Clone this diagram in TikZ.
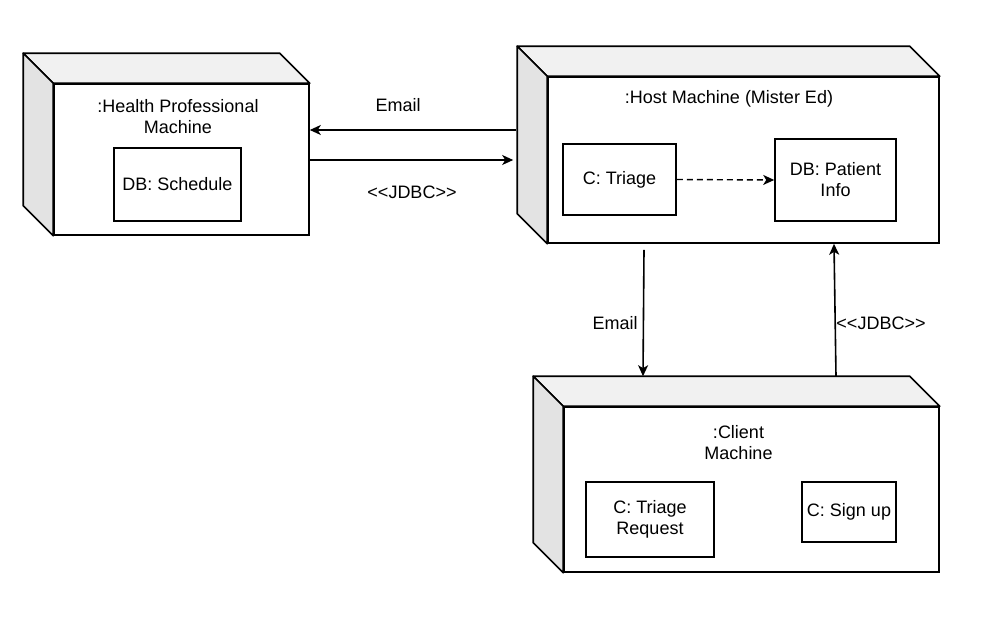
\documentclass[tikz,border=0pt]{standalone}
\usepackage{fontspec}
\setmainfont{Liberation Sans}
\usetikzlibrary{arrows.meta,calc}
\definecolor{topgray}{HTML}{F1F1F1}
\definecolor{sidegray}{HTML}{E3E3E3}
\begin{document}
\begin{tikzpicture}[x=1pt,y=-1pt,
  every node/.style={font=\fontsize{18}{21}\selectfont},
  line width=1.6pt,
  front/.style={draw, fill=white, rectangle, inner sep=0pt},
  part/.style={draw, fill=white, rectangle, inner sep=0pt, align=center},
  title/.style={align=center, inner sep=0pt},
  lbl/.style={inner sep=0pt},
  arr/.style={-{Stealth[length=11pt,width=10pt,inset=3pt]}},
  dep/.style={line width=1.4pt, dash pattern=on 6pt off 4pt, -{Stealth[length=11pt,width=10pt,inset=3pt]}}
]
\useasboundingbox (0,0) rectangle (988,637);

% front faces of the three deployment nodes
\node[front, minimum width=255pt, minimum height=151pt] (hp) at (181.5,159.5) {};
\node[front, minimum width=391pt, minimum height=166pt] (host) at (743.5,160) {};
\node[front, minimum width=375pt, minimum height=165pt] (client) at (751.5,489.5) {};

% top and side faces giving the 3D box look
\foreach \n in {hp,host,client}{
  \filldraw[fill=topgray, line join=round] (\n.north west) -- ++(-30,-30) -- ($(\n.north east)+(-30,-30)$) -- (\n.north east) -- cycle;
  \filldraw[fill=sidegray, line join=round] (\n.north west) -- ++(-30,-30) -- ($(\n.south west)+(-30,-30)$) -- (\n.south west) -- cycle;
}

% node titles
\node[title] (hptitle) at (178,116.5) {:Health Professional\\Machine};
\node[title] (hosttitle) at (729,99) {:Host Machine (Mister Ed)};
\node[title] (clienttitle) at (738.5,443) {:Client\\Machine};

% deployed artifacts
\node[part, minimum width=127pt, minimum height=73pt] (sched) at (177.5,184.5) {DB: Schedule};
\node[part, minimum width=113pt, minimum height=71pt] (triage) at (619.5,179.5) {C: Triage};
\node[part, minimum width=121pt, minimum height=82pt] (patient) at (835.5,180) {DB: Patient\\Info};
\node[part, minimum width=128pt, minimum height=75pt] (treq) at (650,519.5) {C: Triage\\Request};
\node[part, minimum width=94pt, minimum height=60pt] (signup) at (849,512) {C: Sign up};

% communication paths
\draw[arr] ([xshift=-31pt,yshift=30pt]host.west) -- ([yshift=29.5pt]hp.east);
\draw[arr] ([yshift=-0.5pt]hp.east) -- ([xshift=-34pt]host.west);
\draw[arr] ([xshift=-99.5pt,yshift=-6pt]host.south) -- ([xshift=-108.5pt,yshift=30pt]client.north);
\draw[arr] ([xshift=84.5pt,yshift=30pt]client.north) -- ([xshift=90.5pt]host.south);
\draw[dep] (triage.east) -- (patient.west);

% path labels
\node[lbl] (l1) at (398,105) {Email};
\node[lbl] (l2) at (412,192) {<{}<JDBC>{}>};
\node[lbl] (l3) at (615,323) {Email};
\node[lbl] (l4) at (881,323) {<{}<JDBC>{}>};
\end{tikzpicture}
\end{document}
